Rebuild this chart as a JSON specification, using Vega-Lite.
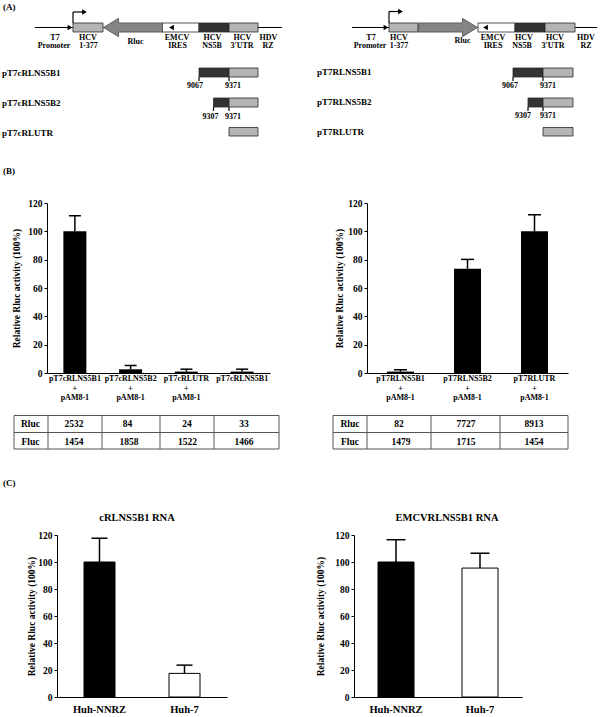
{
  "$schema": "https://vega.github.io/schema/vega-lite/v6.json",
  "padding": 0,
  "background": "white",
  "columns": 4,
  "spacing": 0,
  "bounds": "flush",
  "resolve": {"scale": {"color": "independent", "shape": "independent"}},
  "config": {
    "font": "Liberation Serif",
    "view": {"stroke": null},
    "concat": {"spacing": 0},
    "axis": {"labelFont": "Liberation Serif", "titleFont": "Liberation Serif", "labelFontWeight": "bold", "titleFontWeight": "bold", "labelColor": "#000", "titleColor": "#000", "domainColor": "#000", "tickColor": "#000", "grid": false},
    "title": {"font": "Liberation Serif", "fontWeight": "bold", "color": "#000", "fontSize": 10.5},
    "text": {"font": "Liberation Serif", "fontWeight": "bold", "color": "#000"}
  },
  "datasets": {
    "diagLines": [
      {"x": 35, "y": 27.5, "x2": 282, "y2": 27.5},
      {"x": 73, "y": 23, "x2": 73, "y2": 12},
      {"x": 73, "y": 12, "x2": 85, "y2": 12},
      {"x": 171, "y": 27.5, "x2": 193, "y2": 27.5},
      {"x": 199, "y": 77, "x2": 199, "y2": 81},
      {"x": 229, "y": 77, "x2": 229, "y2": 81},
      {"x": 213.5, "y": 107, "x2": 213.5, "y2": 111},
      {"x": 229, "y": 107, "x2": 229, "y2": 111},
      {"x": 352, "y": 27.5, "x2": 597, "y2": 27.5},
      {"x": 389, "y": 23, "x2": 389, "y2": 11.5},
      {"x": 389, "y": 11.5, "x2": 401, "y2": 11.5},
      {"x": 485, "y": 27.5, "x2": 505, "y2": 27.5},
      {"x": 513, "y": 77, "x2": 513, "y2": 81},
      {"x": 543, "y": 77, "x2": 543, "y2": 81},
      {"x": 528, "y": 107, "x2": 528, "y2": 111},
      {"x": 543, "y": 107, "x2": 543, "y2": 111}
    ],
    "diagBoxes": [
      {"part": "hcv", "x": 73, "x2": 103, "y": 23, "y2": 32},
      {"part": "ires", "x": 162, "x2": 199, "y": 23, "y2": 32},
      {"part": "ns5b", "x": 199, "x2": 229, "y": 23, "y2": 32},
      {"part": "utr", "x": 229, "x2": 258, "y": 23, "y2": 32},
      {"part": "hcv", "x": 389, "x2": 418, "y": 23, "y2": 32},
      {"part": "ires", "x": 478, "x2": 515, "y": 23, "y2": 32},
      {"part": "ns5b", "x": 515, "x2": 545, "y": 23, "y2": 32},
      {"part": "utr", "x": 545, "x2": 575, "y": 23, "y2": 32},
      {"part": "ns5b", "x": 199, "x2": 229, "y": 68, "y2": 77},
      {"part": "utr", "x": 229, "x2": 258, "y": 68, "y2": 77},
      {"part": "ns5b", "x": 213.5, "x2": 229, "y": 98, "y2": 107},
      {"part": "utr", "x": 229, "x2": 258, "y": 98, "y2": 107},
      {"part": "utr", "x": 229, "x2": 258, "y": 127.5, "y2": 136},
      {"part": "ns5b", "x": 513, "x2": 543, "y": 68, "y2": 77},
      {"part": "utr", "x": 543, "x2": 573, "y": 68, "y2": 77},
      {"part": "ns5b", "x": 528, "x2": 543, "y": 98, "y2": 107},
      {"part": "utr", "x": 543, "x2": 573, "y": 98, "y2": 107},
      {"part": "utr", "x": 543, "x2": 573, "y": 127.5, "y2": 136}
    ],
    "diagHeads": [
      {"dir": "right", "x": 70, "y": 27.5},
      {"dir": "right", "x": 84.5, "y": 12},
      {"dir": "left", "x": 171.5, "y": 27.5},
      {"dir": "right", "x": 386, "y": 27.5},
      {"dir": "right", "x": 400.5, "y": 11.5},
      {"dir": "left", "x": 485.5, "y": 27.5}
    ],
    "diagRluc": [
      {"dir": "rlucL", "x": 133, "y": 27.5},
      {"dir": "rlucR", "x": 448, "y": 27.5}
    ],
    "diagLabels": [
      {"t": "T7", "x": 55, "y": 37.5},
      {"t": "Promoter", "x": 54, "y": 46},
      {"t": "HCV", "x": 88, "y": 37.5},
      {"t": "1-377", "x": 88.5, "y": 46},
      {"t": "Rluc", "x": 135.5, "y": 41.5},
      {"t": "EMCV", "x": 177, "y": 37.5},
      {"t": "IRES", "x": 177.5, "y": 46},
      {"t": "HCV", "x": 212.5, "y": 37.5},
      {"t": "NS5B", "x": 212, "y": 46},
      {"t": "HCV", "x": 242.5, "y": 37.5},
      {"t": "3'UTR", "x": 242, "y": 46},
      {"t": "HDV", "x": 268.5, "y": 37.5},
      {"t": "RZ", "x": 268, "y": 46},
      {"t": "9067", "x": 195, "y": 86},
      {"t": "9371", "x": 233, "y": 86},
      {"t": "9307", "x": 210.5, "y": 117},
      {"t": "9371", "x": 233, "y": 117},
      {"t": "T7", "x": 371, "y": 37.5},
      {"t": "Promoter", "x": 370, "y": 45.5},
      {"t": "HCV", "x": 399, "y": 37.5},
      {"t": "1-377", "x": 399, "y": 45.5},
      {"t": "Rluc", "x": 462.5, "y": 40.5},
      {"t": "EMCV", "x": 493, "y": 37.5},
      {"t": "IRES", "x": 493, "y": 45.5},
      {"t": "HCV", "x": 524, "y": 37.5},
      {"t": "NS5B", "x": 522, "y": 45.5},
      {"t": "HCV", "x": 555, "y": 37.5},
      {"t": "3'UTR", "x": 553, "y": 45.5},
      {"t": "HDV", "x": 586, "y": 37.5},
      {"t": "RZ", "x": 586, "y": 45.5},
      {"t": "9067", "x": 510, "y": 86},
      {"t": "9371", "x": 548, "y": 86},
      {"t": "9307", "x": 523, "y": 116},
      {"t": "9371", "x": 548, "y": 116}
    ],
    "diagNames": [
      {"t": "(A)", "x": 3, "y": 7},
      {"t": "pT7cRLNS5B1", "x": 2, "y": 72.5},
      {"t": "pT7cRLNS5B2", "x": 2, "y": 103},
      {"t": "pT7cRLUTR", "x": 2, "y": 133},
      {"t": "pT7RLNS5B1", "x": 317, "y": 72},
      {"t": "pT7RLNS5B2", "x": 317, "y": 102},
      {"t": "pT7RLUTR", "x": 317, "y": 132},
      {"t": "(B)", "x": 3, "y": 171}
    ],
    "tableGrid": [
      {"x": 14, "y": 42.5, "x2": 279, "y2": 42.5},
      {"x": 14, "y": 59.5, "x2": 279, "y2": 59.5},
      {"x": 14, "y": 76, "x2": 279, "y2": 76},
      {"x": 14, "y": 42.5, "x2": 14, "y2": 76},
      {"x": 48, "y": 42.5, "x2": 48, "y2": 76},
      {"x": 102, "y": 42.5, "x2": 102, "y2": 76},
      {"x": 160, "y": 42.5, "x2": 160, "y2": 76},
      {"x": 214, "y": 42.5, "x2": 214, "y2": 76},
      {"x": 279, "y": 42.5, "x2": 279, "y2": 76},
      {"x": 333, "y": 42.5, "x2": 568, "y2": 42.5},
      {"x": 333, "y": 59.5, "x2": 568, "y2": 59.5},
      {"x": 333, "y": 76, "x2": 568, "y2": 76},
      {"x": 333, "y": 42.5, "x2": 333, "y2": 76},
      {"x": 367, "y": 42.5, "x2": 367, "y2": 76},
      {"x": 431, "y": 42.5, "x2": 431, "y2": 76},
      {"x": 500, "y": 42.5, "x2": 500, "y2": 76},
      {"x": 568, "y": 42.5, "x2": 568, "y2": 76}
    ],
    "tableText": [
      {"t": "Rluc", "x": 30.5, "y": 51.3},
      {"t": "2532", "x": 74, "y": 51.3},
      {"t": "84", "x": 127.5, "y": 51.3},
      {"t": "24", "x": 187, "y": 51.3},
      {"t": "33", "x": 244, "y": 51.3},
      {"t": "Fluc", "x": 30.5, "y": 68.5},
      {"t": "1454", "x": 74, "y": 68.5},
      {"t": "1858", "x": 129, "y": 68.5},
      {"t": "1522", "x": 187.5, "y": 68.5},
      {"t": "1466", "x": 244, "y": 68.5},
      {"t": "Rluc", "x": 350, "y": 51.3},
      {"t": "82", "x": 399, "y": 51.3},
      {"t": "7727", "x": 466, "y": 51.3},
      {"t": "8913", "x": 534, "y": 51.3},
      {"t": "Fluc", "x": 350, "y": 68.5},
      {"t": "1479", "x": 401, "y": 68.5},
      {"t": "1715", "x": 466, "y": 68.5},
      {"t": "1454", "x": 534, "y": 68.5}
    ],
    "tableNames": [
      {"t": "(C)", "x": 3, "y": 109.5}
    ],
    "bLeft": [
      {"construct": "pT7cRLNS5B1|+|pAM8-1", "value": 100, "upper": 111},
      {"construct": "pT7cRLNS5B2|+|pAM8-1", "value": 2.6, "upper": 5.3},
      {"construct": "pT7cRLUTR|+|pAM8-1", "value": 1, "upper": 2.7},
      {"construct": "pT7cRLNS5B1", "value": 1, "upper": 2.7}
    ],
    "bRight": [
      {"construct": "pT7RLNS5B1|+|pAM8-1", "value": 1, "upper": 2.3},
      {"construct": "pT7RLNS5B2|+|pAM8-1", "value": 73.6, "upper": 80.2},
      {"construct": "pT7RLUTR|+|pAM8-1", "value": 100, "upper": 111.7}
    ],
    "cLeft": [
      {"cell": "Huh-NNRZ", "value": 100, "upper": 117.6},
      {"cell": "Huh-7", "value": 17.5, "upper": 23.6}
    ],
    "cRight": [
      {"cell": "Huh-NNRZ", "value": 100, "upper": 116.5},
      {"cell": "Huh-7", "value": 95.5, "upper": 106.5}
    ]
  },
  "concat": [
    {
      "width": 47,
      "height": 203,
      "encoding": {
        "x": {"field": "x", "type": "quantitative", "scale": {"domain": [0, 47], "nice": false, "zero": false}, "axis": null},
        "y": {"field": "y", "type": "quantitative", "scale": {"domain": [0, 203], "nice": false, "zero": false, "reverse": true}, "axis": null}
      },
      "layer": [
        {"data": {"name": "diagLines"}, "mark": {"type": "rule", "color": "#000", "strokeWidth": 1.2}, "encoding": {"x2": {"field": "x2"}, "y2": {"field": "y2"}}},
        {"data": {"name": "diagBoxes"}, "mark": {"type": "rect", "stroke": "#2a2a2a", "strokeWidth": 0.8}, "encoding": {"x2": {"field": "x2"}, "y2": {"field": "y2"}, "color": {"field": "part", "type": "nominal", "scale": {"domain": ["hcv", "ires", "ns5b", "utr"], "range": ["#b4b4b4", "#ffffff", "#333333", "#b4b4b4"]}, "legend": null}}},
        {"data": {"name": "diagHeads"}, "mark": {"type": "point", "filled": true, "size": 30, "color": "#000", "opacity": 1}, "encoding": {"shape": {"field": "dir", "type": "nominal", "scale": {"domain": ["right", "left", "rlucL", "rlucR"], "range": ["triangle-right", "triangle-left", "M-1,0L-0.49,-0.31L-0.49,-0.155L1,-0.155L1,0.155L-0.49,0.155L-0.49,0.31Z", "M1,0L0.49,-0.31L0.49,-0.155L-1,-0.155L-1,0.155L0.49,0.155L0.49,0.31Z"]}, "legend": null}}},
        {"data": {"name": "diagRluc"}, "mark": {"type": "point", "filled": true, "size": 3481, "fill": "#858585", "stroke": "#4a4a4a", "strokeWidth": 0.8, "opacity": 1}, "encoding": {"shape": {"field": "dir", "type": "nominal", "scale": {"domain": ["right", "left", "rlucL", "rlucR"], "range": ["triangle-right", "triangle-left", "M-1,0L-0.49,-0.31L-0.49,-0.155L1,-0.155L1,0.155L-0.49,0.155L-0.49,0.31Z", "M1,0L0.49,-0.31L0.49,-0.155L-1,-0.155L-1,0.155L0.49,0.155L0.49,0.31Z"]}, "legend": null}}},
        {"data": {"name": "diagLabels"}, "mark": {"type": "text", "fontSize": 8, "fontWeight": "bold", "align": "center", "baseline": "middle", "color": "#000"}, "encoding": {"text": {"field": "t", "type": "nominal"}}},
        {"data": {"name": "diagNames"}, "mark": {"type": "text", "fontSize": 9, "fontWeight": "bold", "align": "left", "baseline": "middle", "color": "#000"}, "encoding": {"text": {"field": "t", "type": "nominal"}}}
      ]
    },
    {"width": 0, "height": 1, "data": {"values": []}, "mark": "point"},
    {"width": 0, "height": 1, "data": {"values": []}, "mark": "point"},
    {"width": 0, "height": 1, "data": {"values": []}, "mark": "point"},

    {"width": 47, "height": 1, "data": {"values": []}, "mark": "point"},
    {
      "width": 223,
      "height": 170,
      "data": {"name": "bLeft"},
      "encoding": {
        "x": {"field": "construct", "type": "nominal", "sort": null, "scale": {"paddingInner": 0, "paddingOuter": 0}, "axis": {"title": null, "labelAngle": 0, "labelExpr": "split(datum.label, '|')", "ticks": false, "tickSize": 0, "labelPadding": 1.5, "labelFontSize": 8, "labelLineHeight": 9.5, "labelOverlap": false, "labelLimit": 0}},
        "y": {"field": "value", "type": "quantitative", "title": "Relative Rluc activity (100%)", "scale": {"domain": [0, 120], "nice": false}, "axis": {"values": [0, 20, 40, 60, 80, 100, 120], "tickSize": 3, "labelFontSize": 9.5, "labelPadding": 2, "titleFontSize": 9.5, "titlePadding": 6}}
      },
      "layer": [
        {"mark": {"type": "bar", "size": 23, "color": "#000"}},
        {"mark": {"type": "rule", "strokeWidth": 1.5, "color": "#000"}, "encoding": {"y2": {"field": "upper"}}},
        {"mark": {"type": "tick", "size": 12, "thickness": 1.5, "color": "#000", "opacity": 1}, "encoding": {"y": {"field": "upper", "type": "quantitative", "title": "Relative Rluc activity (100%)"}}}
      ]
    },
    {"width": 84, "height": 1, "data": {"values": []}, "mark": "point"},
    {
      "width": 214,
      "height": 170,
      "data": {"name": "bRight"},
      "encoding": {
        "x": {"field": "construct", "type": "nominal", "sort": null, "scale": {"paddingInner": 0, "paddingOuter": 0, "range": [13, 214]}, "axis": {"title": null, "labelAngle": 0, "labelExpr": "split(datum.label, '|')", "ticks": false, "tickSize": 0, "labelPadding": 1.5, "labelFontSize": 8, "labelLineHeight": 9.5, "labelOverlap": false, "labelLimit": 0}},
        "y": {"field": "value", "type": "quantitative", "title": "Relative Rluc activity (100%)", "scale": {"domain": [0, 120], "nice": false}, "axis": {"offset": -13, "values": [0, 20, 40, 60, 80, 100, 120], "tickSize": 3, "labelFontSize": 9.5, "labelPadding": 2, "titleFontSize": 9.5, "titlePadding": 3}}
      },
      "layer": [
        {"mark": {"type": "bar", "size": 27, "color": "#000"}},
        {"mark": {"type": "rule", "strokeWidth": 1.5, "color": "#000"}, "encoding": {"y2": {"field": "upper"}}},
        {"mark": {"type": "tick", "size": 13, "thickness": 1.5, "color": "#000", "opacity": 1}, "encoding": {"y": {"field": "upper", "type": "quantitative", "title": "Relative Rluc activity (100%)"}}}
      ]
    },

    {
      "width": 47,
      "height": 162,
      "encoding": {
        "x": {"field": "x", "type": "quantitative", "scale": {"domain": [0, 47], "nice": false, "zero": false}, "axis": null},
        "y": {"field": "y", "type": "quantitative", "scale": {"domain": [0, 162], "nice": false, "zero": false, "reverse": true}, "axis": null}
      },
      "layer": [
        {"data": {"name": "tableGrid"}, "mark": {"type": "rule", "color": "#555", "strokeWidth": 1}, "encoding": {"x2": {"field": "x2"}, "y2": {"field": "y2"}}},
        {"data": {"name": "tableText"}, "mark": {"type": "text", "fontSize": 9.5, "fontWeight": "bold", "align": "center", "baseline": "middle", "color": "#000"}, "encoding": {"text": {"field": "t", "type": "nominal"}}},
        {"data": {"name": "tableNames"}, "mark": {"type": "text", "fontSize": 9, "fontWeight": "bold", "align": "left", "baseline": "middle", "color": "#000"}, "encoding": {"text": {"field": "t", "type": "nominal"}}}
      ]
    },
    {"width": 0, "height": 1, "data": {"values": []}, "mark": "point"},
    {"width": 0, "height": 1, "data": {"values": []}, "mark": "point"},
    {"width": 0, "height": 1, "data": {"values": []}, "mark": "point"},

    {"width": 47, "height": 1, "data": {"values": []}, "mark": "point"},
    {
      "width": 180,
      "height": 162,
      "title": {"text": "cRLNS5B1 RNA", "offset": 7},
      "data": {"name": "cLeft"},
      "encoding": {
        "x": {"field": "cell", "type": "nominal", "sort": null, "scale": {"paddingInner": 0, "paddingOuter": 0, "range": [10, 180]}, "axis": {"title": null, "labelAngle": 0, "ticks": false, "tickSize": 0, "labelPadding": 7, "labelFontSize": 10.5}},
        "y": {"field": "value", "type": "quantitative", "title": "Relative Rluc activity (100%)", "scale": {"domain": [0, 120], "nice": false}, "axis": {"offset": -10, "values": [0, 20, 40, 60, 80, 100, 120], "tickSize": 3, "labelFontSize": 9.5, "labelPadding": 2, "titleFontSize": 9.5, "titlePadding": 1}}
      },
      "layer": [
        {"mark": {"type": "bar", "size": 31, "stroke": "#000", "strokeWidth": 1}, "encoding": {"color": {"field": "cell", "type": "nominal", "scale": {"domain": ["Huh-NNRZ", "Huh-7"], "range": ["#000000", "#ffffff"]}, "legend": null}}},
        {"mark": {"type": "rule", "strokeWidth": 1.5, "color": "#000"}, "encoding": {"y2": {"field": "upper"}}},
        {"mark": {"type": "tick", "size": 16, "thickness": 1.5, "color": "#000", "opacity": 1}, "encoding": {"y": {"field": "upper", "type": "quantitative", "title": "Relative Rluc activity (100%)"}}}
      ]
    },
    {"width": 84, "height": 1, "data": {"values": []}, "mark": "point"},
    {
      "width": 168,
      "height": 162,
      "title": {"text": "EMCVRLNS5B1  RNA", "offset": 7, "dx": 9},
      "data": {"name": "cRight"},
      "encoding": {
        "x": {"field": "cell", "type": "nominal", "sort": null, "scale": {"paddingInner": 0, "paddingOuter": 0}, "axis": {"title": null, "labelAngle": 0, "ticks": false, "tickSize": 0, "labelPadding": 7, "labelFontSize": 10.5}},
        "y": {"field": "value", "type": "quantitative", "title": "Relative Rluc activity (100%)", "scale": {"domain": [0, 120], "nice": false}, "axis": {"values": [0, 20, 40, 60, 80, 100, 120], "tickSize": 3, "labelFontSize": 9.5, "labelPadding": 2, "titleFontSize": 9.5, "titlePadding": 9}}
      },
      "layer": [
        {"mark": {"type": "bar", "size": 36, "stroke": "#000", "strokeWidth": 1}, "encoding": {"color": {"field": "cell", "type": "nominal", "scale": {"domain": ["Huh-NNRZ", "Huh-7"], "range": ["#000000", "#ffffff"]}, "legend": null}}},
        {"mark": {"type": "rule", "strokeWidth": 1.5, "color": "#000"}, "encoding": {"y2": {"field": "upper"}}},
        {"mark": {"type": "tick", "size": 19, "thickness": 1.5, "color": "#000", "opacity": 1}, "encoding": {"y": {"field": "upper", "type": "quantitative", "title": "Relative Rluc activity (100%)"}}}
      ]
    }
  ]
}
